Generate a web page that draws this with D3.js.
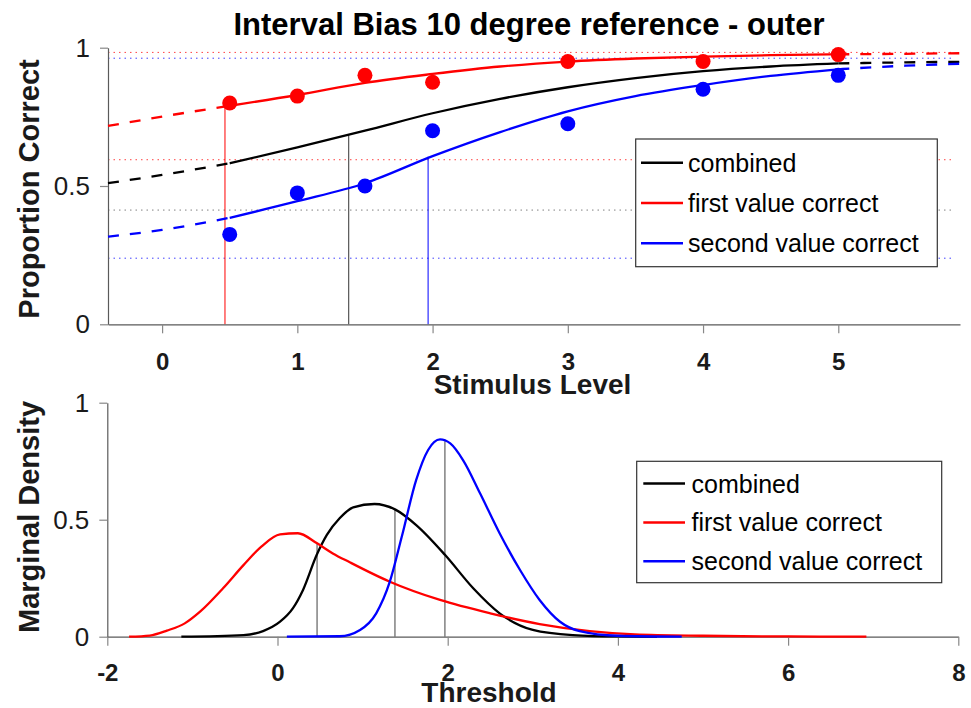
<!DOCTYPE html>
<html><head><meta charset="utf-8">
<script src="https://cdn.jsdelivr.net/npm/d3@7"></script>
<style>body{margin:0;background:#fff}svg{display:block;font-family:"Liberation Sans",Arial,sans-serif}</style>
</head><body><svg id="c" width="971" height="708"></svg>
<script>
// ---------- data ----------
const chartTitle = "Interval Bias 10 degree reference - outer";
const seriesNames = ["combined", "first value correct", "second value correct"];
const seriesColors = ["#000000", "#ff0000", "#0000ff"];

const stimulusLevels = [0.5, 1, 1.5, 2, 3, 4, 5];
const firstCorrect  = [0.800, 0.825, 0.900, 0.875, 0.950, 0.950, 0.975];
const secondCorrect = [0.325, 0.475, 0.500, 0.700, 0.725, 0.850, 0.900];

// fitted psychometric curves
const fitX        = [-0.4, 0, 0.5, 1, 1.5, 2, 2.5, 3, 3.5, 4, 4.5, 5, 5.5, 5.9];
const fitCombined = [0.510, 0.540, 0.582, 0.640, 0.700, 0.763, 0.815, 0.857, 0.890, 0.915, 0.932, 0.943, 0.947, 0.949];
const fitFirst    = [0.717, 0.751, 0.790, 0.829, 0.873, 0.905, 0.932, 0.950, 0.961, 0.968, 0.973, 0.976, 0.978, 0.980];
const fitSecond   = [0.317, 0.341, 0.385, 0.445, 0.510, 0.608, 0.695, 0.770, 0.825, 0.865, 0.898, 0.922, 0.935, 0.942];
const fitSolidRange = [0.5, 5];

// thresholds (combined, first, second) and heights
const thresholds   = [1.380, 0.465, 1.967];
const thresholdPC  = [0.688, 0.785, 0.606];
const thresholdDen = [0.544, 0.400, 0.835];

// dotted guide levels
const guideCombined = [0.413];
const guideFirst    = [0.595, 0.983];
const guideSecond   = [0.239, 0.962];

// marginal densities [threshold, density]
const denCombined = [[-1.13,0],[-0.4,0.007],[-0.17,0.024],[0.03,0.064],[0.18,0.121],[0.30,0.200],[0.46,0.349],[0.58,0.435],[0.73,0.506],[0.89,0.553],[1.14,0.567],[1.38,0.544],[1.63,0.477],[1.97,0.349],[2.30,0.207],[2.61,0.100],[3.00,0.029],[3.47,0.007],[4.00,0.001],[4.46,0]];
const denFirst = [[-1.744,0],[-1.50,0.005],[-1.30,0.026],[-1.09,0.057],[-0.91,0.107],[-0.64,0.207],[-0.40,0.306],[-0.19,0.385],[0.03,0.437],[0.24,0.442],[0.46,0.400],[0.65,0.356],[0.85,0.318],[1.32,0.235],[1.91,0.157],[2.50,0.100],[3.08,0.054],[3.67,0.024],[4.20,0.010],[5.00,0.004],[6.00,0.001],[6.92,0]];
const denSecond = [[0.11,0],[0.73,0.002],[0.97,0.029],[1.16,0.100],[1.32,0.235],[1.46,0.427],[1.63,0.670],[1.77,0.798],[1.91,0.843],[2.03,0.826],[2.18,0.755],[2.38,0.613],[2.61,0.442],[2.85,0.285],[3.08,0.157],[3.32,0.064],[3.55,0.024],[4.00,0.004],[4.75,0]];

const topXTicks = [0, 1, 2, 3, 4, 5];
const topYTicks = [0, 0.5, 1];
const botXTicks = [-2, 0, 2, 4, 6, 8];
const botYTicks = [0, 0.5, 1];
const topXLabel = "Stimulus Level", topYLabel = "Proportion Correct";
const botXLabel = "Threshold", botYLabel = "Marginal Density";

// ---------- drawing ----------
const svg = d3.select("#c");
svg.append("rect").attr("width", 971).attr("height", 708).attr("fill", "#fff");

const xT = d3.scaleLinear().domain([-0.4, 5.9]).range([108, 960]);
const yT = d3.scaleLinear().domain([0, 1]).range([324.3, 47.7]);
const xB = d3.scaleLinear().domain([-2, 8]).range([107.3, 958.3]);
const yB = d3.scaleLinear().domain([0, 1]).range([636.7, 402.7]);

function styleAxis(g, bold, size) {
  g.attr("font-size", size).attr("font-family", '"Liberation Sans",Arial,sans-serif');
  g.select(".domain").attr("stroke", "#5a5a5a").attr("stroke-width", 1.2);
  g.selectAll(".tick line").attr("stroke", "#888").attr("stroke-width", 1.2);
  g.selectAll(".tick text").attr("fill", "#1a1a1a").attr("font-size", size)
    .attr("font-weight", bold ? "bold" : "normal");
}
function drawAxes(x, y, xt, yt, pad) {
  const gx = svg.append("g").attr("transform", `translate(0,${y(0)})`)
    .call(d3.axisBottom(x).tickValues(xt).tickSize(9).tickSizeOuter(0).tickPadding(pad).tickFormat(d => String(d)));
  styleAxis(gx, true, 24);
  const gy = svg.append("g").attr("transform", `translate(${x.range()[0]},0)`)
    .call(d3.axisLeft(y).tickValues(yt).tickSize(8).tickSizeOuter(0).tickPadding(10).tickFormat(d => String(d)));
  styleAxis(gy, false, 26);
}

// ---- top panel ----
const guides = [guideCombined, guideFirst, guideSecond];
guides.forEach((arr, i) => {
  svg.append("g").selectAll("line").data(arr).join("line")
    .attr("x1", xT(-0.4)).attr("x2", xT(5.85))
    .attr("y1", d => yT(d)).attr("y2", d => yT(d))
    .attr("stroke", i === 0 ? "#555" : seriesColors[i]).attr("stroke-opacity", 0.75)
    .attr("stroke-width", 1).attr("stroke-dasharray", "1.5,4");
});
thresholds.forEach((t, i) => {
  svg.append("line").attr("x1", xT(t)).attr("x2", xT(t))
    .attr("y1", yT(0)).attr("y2", yT(thresholdPC[i]))
    .attr("stroke", i === 0 ? "#333" : seriesColors[i]).attr("stroke-width", 1);
});
drawAxes(xT, yT, topXTicks, topYTicks, 19.5);

const fits = [fitCombined, fitFirst, fitSecond];
const lineT = d3.line().x(d => xT(d[0])).y(d => yT(d[1])).curve(d3.curveMonotoneX);
fits.forEach((f, i) => {
  const pts = fitX.map((x, k) => [x, f[k]]);
  const left = pts.filter(p => p[0] <= fitSolidRange[0]);
  const mid = pts.filter(p => p[0] >= fitSolidRange[0] && p[0] <= fitSolidRange[1]);
  const right = pts.filter(p => p[0] >= fitSolidRange[1]);
  [[left, true], [mid, false], [right, true]].forEach(([seg, dashed]) => {
    svg.append("path").attr("d", lineT(seg)).attr("fill", "none")
      .attr("stroke", seriesColors[i]).attr("stroke-width", 2.3)
      .attr("stroke-dasharray", dashed ? "11,11" : null);
  });
});
[[firstCorrect, 1], [secondCorrect, 2]].forEach(([vals, i]) => {
  svg.append("g").selectAll("circle").data(stimulusLevels).join("circle")
    .attr("cx", d => xT(d)).attr("cy", (d, k) => yT(vals[k])).attr("r", 7.5)
    .attr("fill", seriesColors[i]);
});

// ---- bottom panel ----
const dens = [denCombined, denFirst, denSecond];
thresholds.forEach((t, i) => {
  svg.append("line").attr("x1", xB(t)).attr("x2", xB(t))
    .attr("y1", yB(0)).attr("y2", yB(thresholdDen[i]))
    .attr("stroke", "#808080").attr("stroke-width", 1.5);
});
drawAxes(xB, yB, botXTicks, botYTicks, 18.5);
const lineB = d3.line().x(d => xB(d[0])).y(d => yB(d[1])).curve(d3.curveMonotoneX);
dens.forEach((dd, i) => {
  svg.append("path").attr("d", lineB(dd)).attr("fill", "none")
    .attr("stroke", seriesColors[i]).attr("stroke-width", 2.3);
});

// ---- legends ----
function legend(x0, y0, w, h, firstY, step, lx1, lx2, tx) {
  svg.append("rect").attr("x", x0).attr("y", y0).attr("width", w).attr("height", h)
    .attr("fill", "#fff").attr("stroke", "#333").attr("stroke-width", 1.2);
  seriesNames.forEach((n, i) => {
    const yy = firstY + i * step;
    svg.append("line").attr("x1", lx1).attr("x2", lx2).attr("y1", yy).attr("y2", yy)
      .attr("stroke", seriesColors[i]).attr("stroke-width", 2.5);
    svg.append("text").attr("x", tx).attr("y", yy + 9).attr("font-size", 25).attr("fill", "#000").text(n);
  });
}
legend(635.7, 139, 301.6, 127.7, 162.7, 40.3, 641, 683, 688);
legend(636.7, 461.3, 305, 121.4, 483.5, 38.9, 643.3, 685, 691.5);

// ---- titles ----
svg.append("text").attr("x", 529).attr("y", 35).attr("text-anchor", "middle")
  .attr("font-size", 31).attr("font-weight", "bold").text(chartTitle);
svg.append("text").attr("x", 532.5).attr("y", 394).attr("text-anchor", "middle")
  .attr("font-size", 28).attr("font-weight", "bold").attr("fill", "#1a1a1a").text(topXLabel);
svg.append("text").attr("x", 489).attr("y", 702).attr("text-anchor", "middle")
  .attr("font-size", 28).attr("font-weight", "bold").attr("fill", "#1a1a1a").text(botXLabel);
svg.append("text").attr("transform", "translate(39,189) rotate(-90)").attr("text-anchor", "middle")
  .attr("font-size", 29).attr("font-weight", "bold").attr("fill", "#1a1a1a").text(topYLabel);
svg.append("text").attr("transform", "translate(39,517) rotate(-90)").attr("text-anchor", "middle")
  .attr("font-size", 29).attr("font-weight", "bold").attr("fill", "#1a1a1a").text(botYLabel);
</script></body></html>
